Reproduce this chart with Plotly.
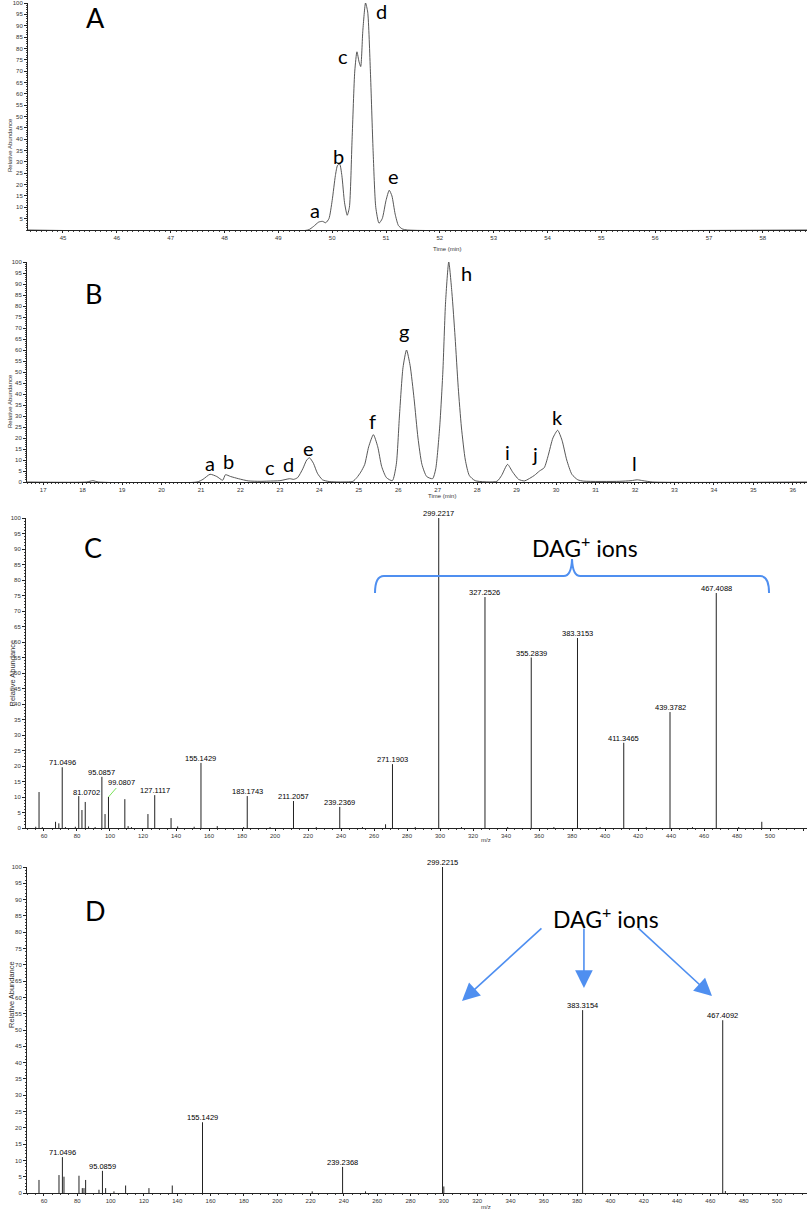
import plotly.graph_objects as go

W, H = 807, 1212

# ---------------- Panel A chromatogram ----------------
a_time = [44.35, 49.55, 49.65, 49.75, 49.82, 49.88, 49.94, 50.0, 50.06, 50.1, 50.14, 50.18,
          50.23, 50.28, 50.32, 50.37, 50.42, 50.46, 50.5, 50.53, 50.57, 50.62, 50.66, 50.71,
          50.76, 50.81, 50.87, 50.93, 51.0, 51.06, 51.11, 51.17, 51.23, 51.3, 51.4, 58.82]
a_abund = [0, 0, 1.5, 3.5, 3.8, 3.2, 5, 13, 24, 28.5, 29, 24,
           12, 6.5, 10, 40, 70, 78.5, 74, 72, 88, 100, 96, 70,
           35, 10, 3, 5, 13, 17.5, 15, 7, 2, 0.5, 0, 0]
a_peak_labels = ["a", "b", "c", "d", "e"]
a_peak_px = [(315, 216), (338, 162), (343, 62), (381, 17), (393, 182)]

# ---------------- Panel B chromatogram ----------------
b_time = [16.59, 18.1, 18.26, 18.4, 20.9, 21.05, 21.23, 21.4, 21.55, 21.62, 21.75, 21.95,
          22.2, 22.5, 22.7, 23.0, 23.25, 23.35, 23.45, 23.58, 23.68, 23.75, 23.85, 23.95,
          24.08, 24.25, 24.5, 24.85, 24.95, 25.05, 25.15, 25.25, 25.37, 25.48, 25.58, 25.7,
          25.85, 25.95, 26.03, 26.12, 26.21, 26.3, 26.4, 26.5, 26.6, 26.72, 26.87, 26.95,
          27.05, 27.13, 27.2, 27.28, 27.36, 27.44, 27.52, 27.6, 27.7, 27.8, 27.95, 28.5,
          28.62, 28.77, 28.9, 29.05, 29.2, 29.45, 29.58, 29.7, 29.8, 29.92, 30.04, 30.15,
          30.27, 30.4, 30.55, 30.7, 31.6, 31.9, 32.06, 32.2, 32.45, 36.36]
b_abund = [0, 0, 0.6, 0, 0, 1.2, 3.5, 2.5, 0.8, 3.3, 2.5, 1.5,
           0.5, 0.3, 0.4, 0.6, 1.5, 1.2, 2, 6, 10, 11, 8.5, 4,
           1, 0.2, 0, 0.3, 2, 4.5, 8, 16, 21.5, 16, 7, 2,
           0.6, 8, 30, 52, 60, 53, 38, 20, 8, 2.5, 1.5, 6,
           25, 50, 82, 100, 86, 66, 43, 25, 10, 3, 0.6, 0.3,
           3, 8, 4.5, 1.2, 0.5, 3, 5, 6.5, 12, 20, 23.5, 19,
           10, 3.5, 1, 0.4, 0.3, 0.6, 1, 0.6, 0, 0]
b_peak_labels = ["a", "b", "c", "d", "e", "f", "g", "h", "i", "j", "k", "l"]
b_peak_px = [(210, 469), (228, 467), (270, 473), (288, 470), (308, 454), (372, 427),
             (404, 337), (466, 279), (507, 458), (535, 460), (557, 423), (634, 469)]

# ---------------- Panel C spectrum ----------------
c_mz = [55, 57, 59, 67, 69, 71.0496, 73, 79, 81.0702, 83, 85, 87, 91, 95.0857, 97, 99.0807,
        109, 111, 113, 123, 127.1117, 137, 141, 151, 155.1429, 165, 181, 183.1743, 197,
        211.2057, 225, 239.2369, 253, 267, 271.1903, 285, 299.2217, 313, 327.2526, 341,
        355.2839, 369, 383.3153, 397, 411.3465, 425, 439.3782, 453, 467.4088, 481, 495]
c_int = [0.4, 11.6, 0.3, 2, 1.5, 19.6, 0.3, 0.4, 10.3, 5.8, 8.4, 0.5, 0.3, 16.5, 4.5, 10,
         9.3, 0.6, 0.3, 4.5, 10.6, 3.2, 0.5, 0.4, 21, 0.6, 0.3, 10.3, 0.3,
         8.7, 0.3, 6.8, 0.3, 1.2, 20.6, 0.3, 100, 0.3, 74.5, 0.3,
         55, 0.3, 61.3, 0.3, 27.5, 0.3, 37.4, 0.3, 75.8, 0.3, 2]
c_label_mz = [71.0496, 95.0857, 127.1117, 155.1429, 183.1743, 211.2057, 239.2369, 271.1903,
              299.2217, 327.2526, 355.2839, 383.3153, 411.3465, 439.3782, 467.4088]
c_label_txt = ["71.0496", "95.0857", "127.1117", "155.1429", "183.1743", "211.2057", "239.2369",
               "271.1903", "299.2217", "327.2526", "355.2839", "383.3153", "411.3465",
               "439.3782", "467.4088"]

# ---------------- Panel D spectrum ----------------
d_mz = [57, 69, 71.0496, 72, 81, 83, 84, 85, 93, 95.0859, 97, 102, 109, 123, 137,
        155.1429, 221, 239.2368, 253, 299.2215, 300, 383.3154, 467.4092, 469]
d_int = [4, 5.5, 11, 5, 5.3, 1.5, 1.5, 4, 1, 6.8, 1.5, 0.5, 2.3, 1.5, 2.3,
         21.7, 0.5, 8, 0.5, 100, 2, 56.1, 53, 0.6]
d_label_mz = [71.0496, 95.0859, 155.1429, 239.2368, 299.2215, 383.3154, 467.4092]
d_label_txt = ["71.0496", "95.0859", "155.1429", "239.2368", "299.2215", "383.3154", "467.4092"]

mz_ticks = list(range(60, 540, 20))
ab_ticks = list(range(0, 105, 5))


def px(xp):
    return xp / W


def py(yp):
    return 1 - yp / H


def sticks(mz, inten):
    xs, ys = [], []
    for m, v in zip(mz, inten):
        xs += [m, m, None]
        ys += [0, v, None]
    return xs, ys


fig = go.Figure()

fig.add_trace(go.Scatter(x=a_time, y=a_abund, mode="lines", xaxis="x", yaxis="y",
                         line=dict(color="#444", width=0.9, shape="spline", smoothing=0.6),
                         showlegend=False, hoverinfo="skip"))
fig.add_trace(go.Scatter(x=b_time, y=b_abund, mode="lines", xaxis="x2", yaxis="y2",
                         line=dict(color="#444", width=0.9, shape="spline", smoothing=0.6),
                         showlegend=False, hoverinfo="skip"))
cx, cy = sticks(c_mz, c_int)
fig.add_trace(go.Scatter(x=cx, y=cy, mode="lines", xaxis="x3", yaxis="y3",
                         line=dict(color="#222", width=1), showlegend=False, hoverinfo="skip"))
dx, dy = sticks(d_mz, d_int)
fig.add_trace(go.Scatter(x=dx, y=dy, mode="lines", xaxis="x4", yaxis="y4",
                         line=dict(color="#222", width=1), showlegend=False, hoverinfo="skip"))

tickfont = dict(family="Liberation Sans, Arial", size=6, color="#333")


def xax(dom_px, rng, tickvals, minor_dt, anchor):
    return dict(domain=[px(dom_px[0]), px(dom_px[1])], range=rng, anchor=anchor,
                automargin=False,
                tickvals=tickvals, ticks="outside", ticklen=2, tickwidth=1, tickcolor="#222",
                showline=True, linecolor="#222", linewidth=1, showgrid=False, zeroline=False,
                tickfont=tickfont,
                minor=dict(dtick=minor_dt, ticks="outside", ticklen=1.2, tickcolor="#444",
                           tickwidth=0.7, showgrid=False))


def yax(dom_px, tickvals, anchor):
    return dict(domain=[py(dom_px[0]), py(dom_px[1])], range=[0, 100], anchor=anchor,
                automargin=False,
                tickvals=tickvals, ticks="outside", ticklen=3, tickwidth=1, tickcolor="#222",
                showline=True, linecolor="#222", linewidth=1, showgrid=False, zeroline=False,
                tickfont=tickfont,
                minor=dict(dtick=1, ticks="outside", ticklen=1.5, tickcolor="#444",
                           tickwidth=0.7, showgrid=False))


fig.update_layout(
    width=W, height=H, margin=dict(l=0, r=0, t=0, b=0, autoexpand=False),
    paper_bgcolor="white", plot_bgcolor="white", showlegend=False,
    xaxis=xax((28, 807), [44.35, 58.82], list(range(45, 59)), 0.1, "y"),
    yaxis=yax((230, 3), ab_ticks[1:], "x"),
    xaxis2=xax((27, 807), [16.59, 36.36], list(range(17, 37)), 0.1, "y2"),
    yaxis2=yax((482, 262), ab_ticks, "x2"),
    xaxis3=xax((26, 807), [49.1, 522.4], mz_ticks, 5, "y3"),
    yaxis3=yax((828, 518), ab_ticks, "x3"),
    xaxis4=xax((27, 807), [49.8, 518], mz_ticks, 5, "y4"),
    yaxis4=yax((1193, 867), ab_ticks, "x4"),
)

ann = []
letter_font = dict(family="Lato, Carlito, sans-serif", size=20, color="black")
panel_font = dict(family="Lato, Carlito, sans-serif", size=27, color="black")


def text_at(xp, base_y, text, font):
    ann.append(dict(x=px(xp), y=py(base_y - 0.3 * font["size"]), xref="paper", yref="paper",
                    text=text, showarrow=False, font=font, xanchor="center", yanchor="middle"))


# panel letters
text_at(95, 26, "A", panel_font)
text_at(93, 302, "B", panel_font)
text_at(93, 556, "C", panel_font)
text_at(95, 919, "D", panel_font)

for t, (xp, yp) in zip(a_peak_labels, a_peak_px):
    text_at(xp, yp, t, letter_font)
for t, (xp, yp) in zip(b_peak_labels, b_peak_px):
    text_at(xp, yp, t, letter_font)

dag_font = dict(family="Lato, Carlito, sans-serif", size=23, color="black")
text_at(585, 553, "DAG<sup>+</sup> ions", dag_font)
text_at(606, 924, "DAG<sup>+</sup> ions", dag_font)

# axis titles
small = dict(family="Liberation Sans, Arial", size=6, color="#333")
for (yc, fs) in [(116, 6), (372, 6), (673, 7.5), (1030, 7.5)]:
    ann.append(dict(x=px(5), y=py(yc), xref="paper", yref="paper", text="Relative Abundance",
                    textangle=-90, showarrow=False,
                    font=dict(family="Liberation Sans, Arial", size=fs, color="#333")))
ann.append(dict(x=px(447), y=py(244), xref="paper", yref="paper", text="Time (min)",
                showarrow=False, font=small))
ann.append(dict(x=px(442), y=py(496), xref="paper", yref="paper", text="Time (min)",
                showarrow=False, font=small))
ann.append(dict(x=px(486), y=py(845), xref="paper", yref="paper", text="m/z",
                showarrow=False, font=small))
ann.append(dict(x=px(486), y=0, xref="paper", yref="paper", text="m/z", yanchor="bottom",
                showarrow=False, font=small))

# spectrum peak labels
lab_font = dict(family="Liberation Sans, Arial", size=7.5, color="black")
c_lookup = dict(zip(c_mz, c_int))
for m, t in zip(c_label_mz, c_label_txt):
    ann.append(dict(x=m, y=c_lookup[m], xref="x3", yref="y3", text=t, showarrow=False,
                    yanchor="bottom", yshift=-2, font=lab_font))
d_lookup = dict(zip(d_mz, d_int))
for m, t in zip(d_label_mz, d_label_txt):
    ann.append(dict(x=m, y=d_lookup[m], xref="x4", yref="y4", text=t, showarrow=False,
                    yanchor="bottom", yshift=-2, font=lab_font))

# offset labels with green leader lines in C
ann.append(dict(x=81.0702, y=c_lookup[81.0702], xref="x3", yref="y3", text="81.0702",
                showarrow=True, arrowhead=0, arrowcolor="#7be35a", arrowwidth=1,
                ax=8, ay=-4, font=lab_font, standoff=0))
ann.append(dict(x=99.0807, y=c_lookup[99.0807], xref="x3", yref="y3", text="99.0807",
                showarrow=True, arrowhead=0, arrowcolor="#7be35a", arrowwidth=1,
                ax=13, ay=-15, font=lab_font, standoff=0))

# arrows in D
blue = "#4f8ff0"
for (tx, ty, hx, hy) in [(359.5, 81.6, 310.9, 58.9), (384.1, 81.6, 384.1, 62.9),
                         (416.0, 81.6, 461.0, 60.4)]:
    ann.append(dict(x=hx, y=hy, ax=tx, ay=ty, xref="x4", yref="y4", axref="x4", ayref="y4",
                    text="", showarrow=True, arrowhead=2, arrowsize=2.2, arrowwidth=1.6,
                    arrowcolor=blue))

fig.update_layout(annotations=ann)

# brace in C
fig.add_shape(type="path", xref="x3", yref="y3",
              path="M 260.6,75.8 Q 260.6,81.3 266,81.3 L 375,81.3 Q 379.6,81.3 380,86.8 "
                   "Q 380.4,81.3 385,81.3 L 494,81.3 Q 499.4,81.3 499.4,75.8",
              line=dict(color=blue, width=2))

fig.write_html("out.html", config={"displayModeBar": False},
               post_script="document.body.style.margin='0';document.body.style.overflow='hidden';")
